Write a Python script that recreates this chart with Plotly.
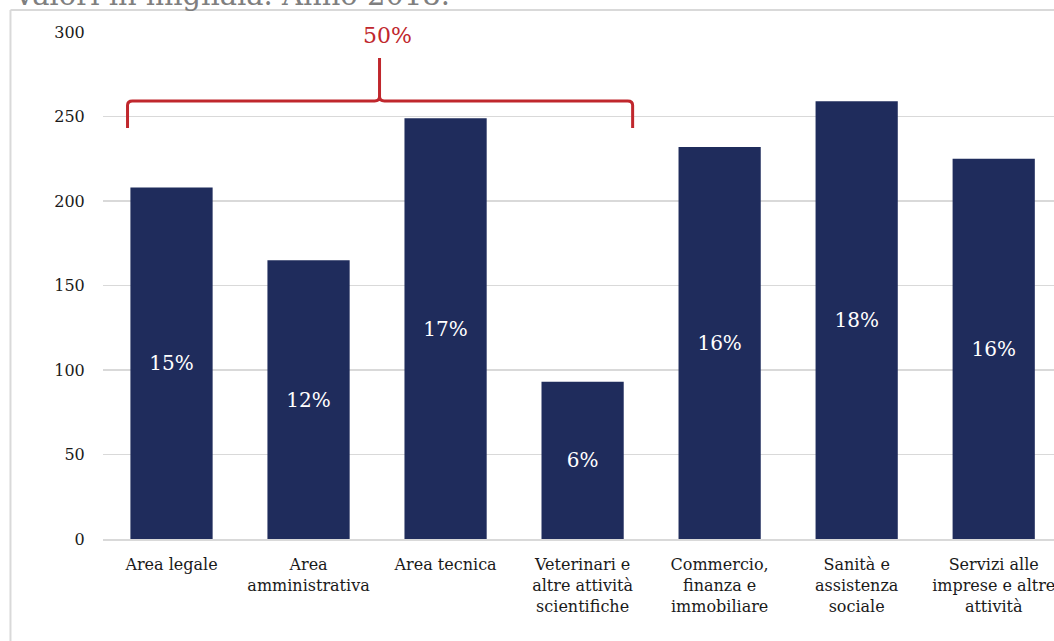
import plotly.graph_objects as go

categories = [
    "Area legale",
    "Area<br>amministrativa",
    "Area tecnica",
    "Veterinari e<br>altre attività<br>scientifiche",
    "Commercio,<br>finanza e<br>immobiliare",
    "Sanità e<br>assistenza<br>sociale",
    "Servizi alle<br>imprese e altre<br>attività",
]
values = [208, 165, 249, 93, 232, 259, 225]
shares = ["15%", "12%", "17%", "6%", "16%", "18%", "16%"]
y_ticks = [0, 50, 100, 150, 200, 250, 300]
group_share = "50%"
title_text = "Valori in migliaia. Anno 2018."

FONT = "DejaVu Serif"
BAR = "#1F2C5C"
RED = "#C0272D"
GRID = "#D9D9D9"

x = list(range(len(categories)))

fig = go.Figure()
fig.add_trace(go.Bar(
    x=x, y=values, width=0.6,
    marker=dict(color=BAR, line=dict(width=0)),
    text=shares, textposition="inside", insidetextanchor="middle",
    textfont=dict(family=FONT, size=20, color="white"),
    constraintext="none", cliponaxis=False, hoverinfo="skip",
))

# brace over first four categories
xl, xr, xc = -0.321, 3.365, 1.518
yb, yl, yt = 243.2, 259.2, 284.6
rx, ry = 0.036, 2.6
path = (
    f"M {xl},{yb} L {xl},{yl-ry} Q {xl},{yl} {xl+rx},{yl} "
    f"L {xc-rx},{yl} Q {xc},{yl} {xc},{yl+ry} L {xc},{yt} "
    f"M {xc},{yl+ry} Q {xc},{yl} {xc+rx},{yl} "
    f"L {xr-rx},{yl} Q {xr},{yl} {xr},{yl-ry} L {xr},{yb}"
)
fig.add_shape(type="path", path=path, xref="x", yref="y",
              line=dict(color=RED, width=3), layer="above")
fig.add_annotation(x=1.577, y=298.2, xref="x", yref="y", text=group_share,
                   showarrow=False, font=dict(family=FONT, size=22, color=RED),
                   xanchor="center", yanchor="middle")

# outer frame (left and top edges; right/bottom lie outside the picture)
fx = -0.0973
fy = 1.0434
fig.add_shape(type="line", xref="paper", yref="paper", x0=fx, x1=fx, y0=-0.3, y1=fy,
              line=dict(color=GRID, width=2), layer="below")
fig.add_shape(type="line", xref="paper", yref="paper", x0=fx, x1=1.1, y0=fy, y1=fy,
              line=dict(color=GRID, width=2), layer="below")

# cropped title
fig.add_annotation(xref="paper", yref="paper", x=-0.0967, y=1.0355,
                   text=title_text, showarrow=False, xanchor="left", yanchor="bottom",
                   font=dict(family=FONT, size=29, color="#7F7F7F"))

fig.update_layout(
    width=1054, height=641,
    margin=dict(l=103, r=0, t=32, b=102),
    paper_bgcolor="white", plot_bgcolor="white",
    showlegend=False,
    font=dict(family=FONT, size=16, color="#262626"),
    xaxis=dict(
        range=[-0.5, 6.44], tickmode="array", tickvals=x, ticktext=categories,
        showgrid=False, zeroline=False, showline=True, linecolor=GRID, linewidth=2,
        ticks="outside", ticklen=10, tickcolor="rgba(0,0,0,0)",
        ticklabeloverflow="allow",
        tickfont=dict(family=FONT, size=16, color="#1A1A1A"), fixedrange=True,
    ),
    yaxis=dict(
        range=[0, 300], tickmode="array", tickvals=y_ticks,
        showgrid=True, gridcolor=GRID, gridwidth=1.3, zeroline=False, showline=False,
        ticks="outside", ticklen=14, tickcolor="rgba(0,0,0,0)",
        tickfont=dict(family=FONT, size=16, color="#1A1A1A"), fixedrange=True,
    ),
)

fig.write_html(
    "out.html",
    config={"displayModeBar": False, "staticPlot": True},
    post_script="document.body.style.margin='0px';document.body.style.overflow='hidden';",
)
